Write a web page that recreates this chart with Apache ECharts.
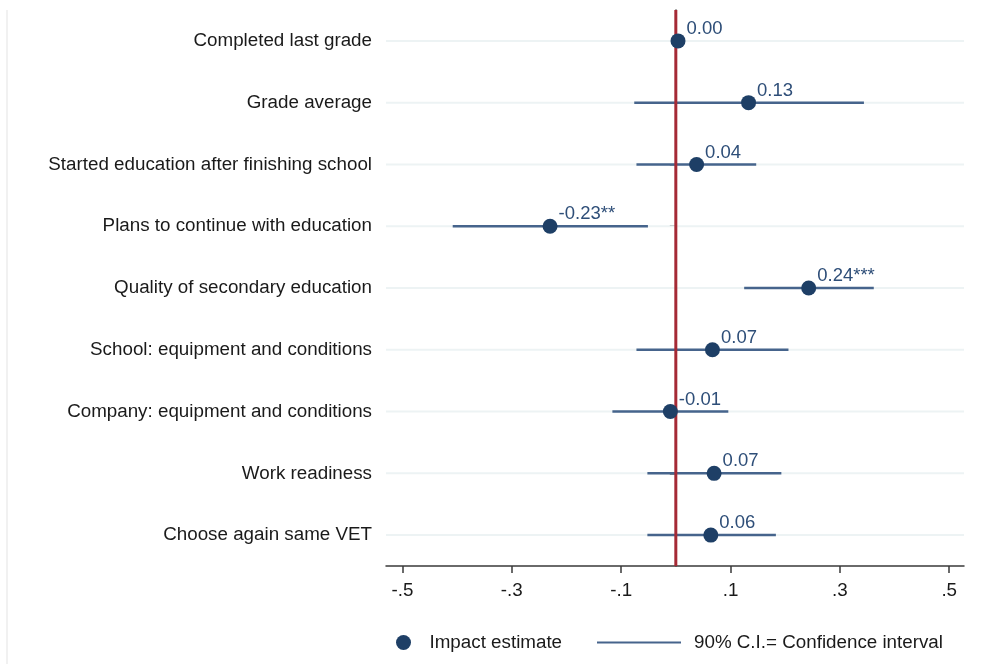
<!DOCTYPE html>
<html>
<head>
<meta charset="utf-8">
<script src="https://cdn.jsdelivr.net/npm/echarts@6/dist/echarts.min.js"></script>
<style>
  html, body { margin: 0; padding: 0; background: #ffffff; }
  #chart { width: 983px; height: 664px; }
</style>
</head>
<body>
<div id="chart"></div>
<script>
// Outcome labels, top to bottom
const outcomes = [
  'Completed last grade',
  'Grade average',
  'Started education after finishing school',
  'Plans to continue with education',
  'Quality of secondary education',
  'School: equipment and conditions',
  'Company: equipment and conditions',
  'Work readiness',
  'Choose again same VET'
];
// Point estimates of the impact
const estimates = [0.004, 0.133, 0.038, -0.230, 0.243, 0.067, -0.010, 0.070, 0.064];
// 90% confidence interval bounds
const ciLower = [-0.006, -0.076, -0.072, -0.408, 0.125, -0.072, -0.116, -0.052, -0.052];
const ciUpper = [0.012, 0.344, 0.147, -0.051, 0.362, 0.206, 0.096, 0.193, 0.183];
// Significance stars shown after each estimate
const stars = ['', '', '', '**', '***', '', '', '', ''];
// Horizontal axis tick values
const xTicks = [-0.5, -0.3, -0.1, 0.1, 0.3, 0.5];
// Reference line (no effect)
const referenceValue = 0;

const FONT = 'Liberation Sans, Arial, Helvetica, sans-serif';
const NAVY = '#1e3f66';
const CI_COLOR = '#46648c';
const LABEL_COLOR = '#2e4e78';
const REF_COLOR = '#a52a35';
const GRID_COLOR = '#edf3f4';

const chart = echarts.init(document.getElementById('chart'), null, { renderer: 'canvas' });

function fmtTick(v) {
  const s = String(Math.round(v * 10) / 10);
  return s.replace(/^(-?)0\./, '$1.');
}

const option = {
  backgroundColor: '#ffffff',
  animation: false,
  grid: { left: 386, right: 19, top: 10, bottom: 98, containLabel: false },
  xAxis: {
    type: 'value',
    min: -0.53,
    max: 0.527,
    axisLine: { show: true, onZero: false, lineStyle: { color: '#3a3a3a', width: 1.5 } },
    axisTick: { show: true, length: 7, lineStyle: { color: '#3a3a3a', width: 1.5 }, customValues: xTicks },
    axisLabel: {
      color: '#1a1a1a', fontFamily: FONT, fontSize: 18.8, margin: 15,
      customValues: xTicks, formatter: fmtTick
    },
    splitLine: { show: false }
  },
  yAxis: {
    type: 'category',
    data: outcomes,
    inverse: true,
    axisLine: { show: true, lineStyle: { color: '#3a3a3a', width: 1.5 } },
    axisTick: { show: true, length: 6, alignWithLabel: true, lineStyle: { color: '#3a3a3a', width: 1.5 } },
    axisLabel: { color: '#1a1a1a', fontFamily: FONT, fontSize: 18.8, margin: 14 },
    splitLine: { show: false }
  },
  legend: [
    {
      left: 391, top: 628,
      itemWidth: 42, itemHeight: 15,
      icon: 'circle',
      data: ['Impact estimate'],
      textStyle: { color: '#1a1a1a', fontFamily: FONT, fontSize: 18.8 }
    },
    {
      left: 592, top: 628,
      itemWidth: 84, itemHeight: 2,
      icon: 'rect',
      data: ['90% C.I.= Confidence interval'],
      textStyle: { color: '#1a1a1a', fontFamily: FONT, fontSize: 18.8, padding: [0, 0, 0, 8] }
    }
  ],
  graphic: [
    {
      type: 'line', silent: true,
      shape: { x1: 7, y1: 10, x2: 7, y2: 664 },
      style: { stroke: '#ececec', lineWidth: 1.5 }
    }
  ],
  series: [
    {
      // light horizontal guide at each outcome row
      type: 'custom',
      name: 'rows',
      z: 1,
      silent: true,
      data: outcomes.map((_, i) => [i]),
      encode: { y: 0 },
      renderItem: function (params, api) {
        const cs = params.coordSys;
        const y = api.coord([0, api.value(0)])[1];
        return {
          type: 'line',
          shape: { x1: cs.x, y1: y, x2: cs.x + cs.width, y2: y },
          style: { stroke: GRID_COLOR, lineWidth: 2 }
        };
      }
    },
    {
      type: 'custom',
      name: '90% C.I.= Confidence interval',
      z: 2,
      itemStyle: { color: CI_COLOR },
      data: outcomes.map((_, i) => [i, ciLower[i], ciUpper[i]]),
      encode: { y: 0, x: [1, 2] },
      renderItem: function (params, api) {
        const a = api.coord([api.value(1), api.value(0)]);
        const b = api.coord([api.value(2), api.value(0)]);
        return {
          type: 'line',
          shape: { x1: a[0], y1: a[1], x2: b[0], y2: b[1] },
          style: { stroke: CI_COLOR, lineWidth: 2.5 }
        };
      }
    },
    {
      // vertical reference line at zero effect
      type: 'custom',
      name: 'reference',
      z: 3,
      silent: true,
      data: [[referenceValue]],
      encode: { x: 0 },
      renderItem: function (params, api) {
        const cs = params.coordSys;
        const x = api.coord([api.value(0), 0])[0];
        return {
          type: 'line',
          shape: { x1: x, y1: cs.y, x2: x, y2: cs.y + cs.height },
          style: { stroke: REF_COLOR, lineWidth: 3 }
        };
      }
    },
    {
      type: 'scatter',
      name: 'Impact estimate',
      z: 4,
      symbol: 'circle',
      symbolSize: 15,
      itemStyle: { color: NAVY, opacity: 1 },
      data: outcomes.map((_, i) => [estimates[i], i]),
      label: {
        show: true,
        position: 'right',
        distance: 1,
        offset: [0, -12],
        color: LABEL_COLOR,
        fontFamily: FONT,
        fontSize: 18.5,
        formatter: function (p) {
          return estimates[p.dataIndex].toFixed(2) + stars[p.dataIndex];
        }
      }
    }
  ]
};

chart.setOption(option);
</script>
</body>
</html>
